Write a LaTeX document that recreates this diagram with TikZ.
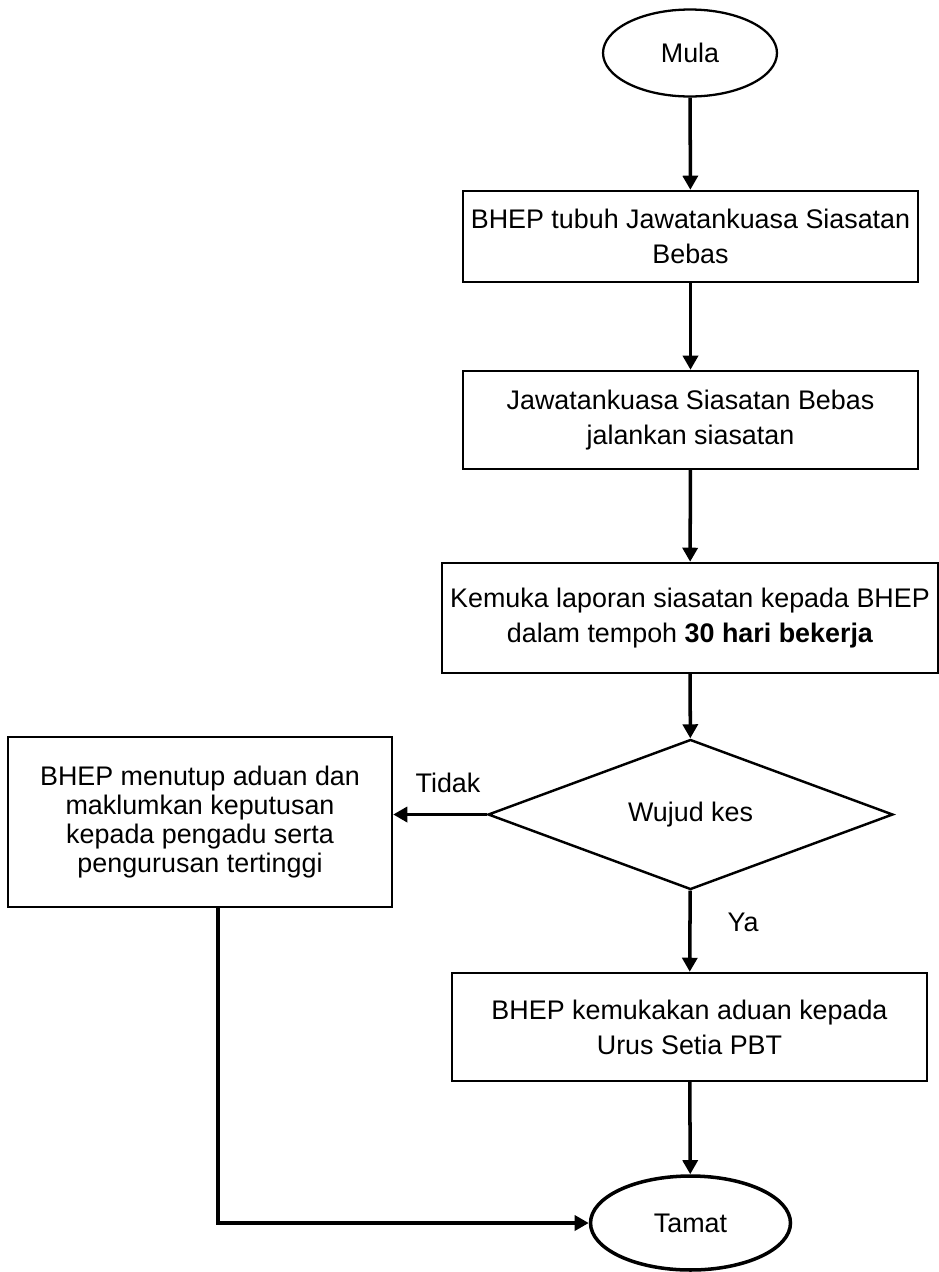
\documentclass[tikz,border=0pt]{standalone}
\usepackage{fontspec}
\setmainfont{Liberation Sans}
\usetikzlibrary{shapes.geometric,arrows.meta}

\begin{document}
\begin{tikzpicture}[x=0.02cm, y=-0.02cm,
            txt/.style={font=\fontsize{15.3}{19.8}\selectfont},
            box/.style={txt, draw, rectangle, line width=1.4pt, align=center, inner sep=0pt},
            term/.style={txt, draw, ellipse, line width=1.3pt, inner sep=0pt},
            choice/.style={txt, draw, diamond, line width=1.4pt, inner sep=0pt},
            flow/.style={line width=2pt, -{Triangle[length=8pt,width=8.5pt]}}]
            \useasboundingbox (0, 0) rectangle (939, 1272);

            \node[term, minimum width=3.48cm, minimum height=1.74cm] (mula) at (690, 53) {Mula};
            \node[box, minimum width=9.1cm, minimum height=1.82cm] (tubuh) at (690.5, 236.5) {BHEP tubuh Jawatankuasa Siasatan\\Bebas};
            \node[box, minimum width=9.1cm, minimum height=1.96cm] (jalan) at (690.5, 420) {Jawatankuasa Siasatan Bebas\\jalankan siasatan};
            \node[box, minimum width=9.92cm, minimum height=2.2cm] (lapor) at (690, 618) {Kemuka laporan siasatan kepada BHEP\\dalam tempoh \textbf{30 hari bekerja}};
            \node[choice, minimum width=8.1cm, minimum height=2.5cm] (wujud) at (690.5, 814.5) {Wujud kes};
            \node[box, minimum width=7.68cm, minimum height=3.4cm, font=\fontsize{15.3}{16.6}\selectfont] (tutup) at (200, 822) {BHEP menutup aduan dan\\maklumkan keputusan\\kepada pengadu serta\\pengurusan tertinggi};
            \node[box, minimum width=9.5cm, minimum height=2.16cm] (kemuka) at (689.5, 1027) {BHEP kemukakan aduan kepada\\Urus Setia PBT};
            \node[term, line width=2pt, minimum width=4cm, minimum height=1.88cm] (tamat) at (690.5, 1223) {Tamat};

            \node[txt] (tidak) at (448, 783) {Tidak};
            \node[txt] (ya) at (743, 922) {Ya};
            \coordinate (belok) at (218, 1223);

            \draw[flow] (mula) -- (tubuh);
            \draw[flow] (tubuh) -- (jalan);
            \draw[flow] (jalan) -- (lapor);
            \draw[flow] (lapor) -- (wujud);
            \draw[flow] (wujud.west) -- (wujud.west -| tutup.east);
            \draw[flow] (wujud) -- (kemuka);
            \draw[flow] (kemuka) -- (tamat);
            \draw[flow] (tutup.south -| belok) -- (belok) -- (tamat.west);
\end{tikzpicture}
\end{document}
